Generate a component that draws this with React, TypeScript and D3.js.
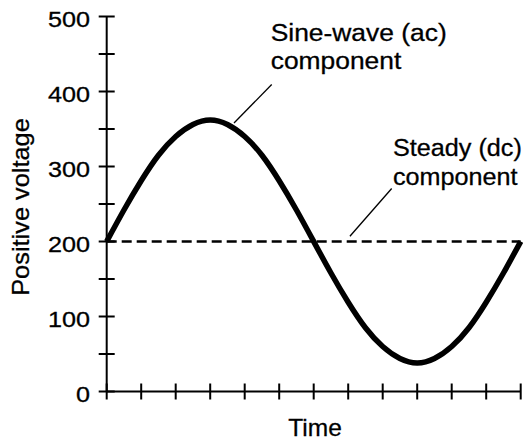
import React from "react";
import * as d3 from "d3";

// Data
const yMajorTicks = [0, 100, 200, 300, 400, 500];
const yMinorTicks = [50, 150, 250, 350, 450];
const xTickValues = [0, 1, 2, 3, 4, 5, 6, 7, 8, 9, 10, 11, 12];
const sineTimes = [0, 0.5, 1, 1.5, 2, 2.5, 3, 3.5, 4, 4.5, 5, 5.5, 6, 6.5, 7, 7.5, 8, 8.5, 9, 9.5, 10, 10.5, 11, 11.5, 12];
const sineVoltages = [200, 242, 281, 315, 340, 356, 362, 356, 340, 315, 281, 242, 200, 158, 119, 85, 60, 44, 38, 44, 60, 85, 119, 158, 200];
const dcLevel = 200;
const xLabel = "Time";
const yLabel = "Positive voltage";
const acLabel = ["Sine-wave (ac)", "component"];
const dcLabel = ["Steady (dc)", "component"];

const W = 525;
const H = 442;
const FONT = "'Liberation Sans', Arial, Helvetica, sans-serif";

export default function App() {
  const x = d3.scaleLinear().domain([0, 12]).range([106.7, 520.7]);
  const y = d3.scaleLinear().domain([0, 500]).range([391.5, 16.5]);

  const sinePts: [number, number][] = sineTimes.map((t, i) => [t, sineVoltages[i]]);
  const line = d3
    .line<[number, number]>()
    .x((d) => x(d[0]))
    .y((d) => y(d[1]))
    .curve(d3.curveNatural);

  const tickHalf = 8;

  // leader-line anchors in data coordinates
  const acEnd = { t: 3.69, v: 358 };
  const dcEnd = { t: 7.05, v: 207 };

  return (
    <svg
      width={W}
      height={H}
      style={{ position: "absolute", left: 0, top: 0, background: "#fff" }}
      fontFamily={FONT}
    >
      {/* dc dashed line */}
      <line
        x1={x(0)}
        x2={x(12)}
        y1={y(dcLevel)}
        y2={y(dcLevel)}
        stroke="#000"
        strokeWidth={2.5}
        strokeDasharray="10,5"
      />
      {/* sine wave */}
      <path d={line(sinePts) || ""} fill="none" stroke="#000" strokeWidth={5.5} strokeLinejoin="round" />

      {/* Y axis */}
      <line x1={x(0)} x2={x(0)} y1={y(0)} y2={y(500)} stroke="#000" strokeWidth={2} />
      {yMajorTicks.concat(yMinorTicks).map((v) => (
        <line
          key={"yt" + v}
          x1={x(0) - tickHalf}
          x2={x(0) + tickHalf}
          y1={y(v)}
          y2={y(v)}
          stroke="#000"
          strokeWidth={2}
        />
      ))}
      {yMajorTicks.map((v) => (
        <text
          key={"yl" + v}
          transform={`translate(90,${y(v) + 10}) scale(1.12,1)`}
          textAnchor="end"
          fontSize={22.5}
          fill="#000"
          stroke="#000"
          strokeWidth={0.3}
        >
          {v}
        </text>
      ))}

      {/* X axis */}
      <line x1={x(0)} x2={x(12)} y1={y(0)} y2={y(0)} stroke="#000" strokeWidth={2} />
      {xTickValues.map((t) => (
        <line
          key={"xt" + t}
          x1={x(t)}
          x2={x(t)}
          y1={y(0) - tickHalf}
          y2={y(0) + tickHalf}
          stroke="#000"
          strokeWidth={2}
        />
      ))}

      {/* Axis titles */}
      <g fill="#000" stroke="#000" strokeWidth={0.3}>
        <text x={315} y={436} textAnchor="middle" fontSize={24.5}>
          {xLabel}
        </text>
        <text
          transform={`translate(29,207) rotate(-90) scale(1.08,1)`}
          textAnchor="middle"
          fontSize={23.5}
        >
          {yLabel}
        </text>

        {/* Annotations */}
        <text transform="translate(270.7,40.7) scale(1.1,1)" fontSize={24}>
          {acLabel[0]}
        </text>
        <text transform="translate(270.7,69.3) scale(1.1,1)" fontSize={24}>
          {acLabel[1]}
        </text>
        <text transform="translate(393,156) scale(1.05,1)" fontSize={24}>
          {dcLabel[0]}
        </text>
        <text transform="translate(393,185) scale(1.05,1)" fontSize={24}>
          {dcLabel[1]}
        </text>
      </g>
      <line x1={271.7} y1={84.5} x2={x(acEnd.t)} y2={y(acEnd.v)} stroke="#000" strokeWidth={1.3} />
      <line x1={391.7} y1={188.5} x2={x(dcEnd.t)} y2={y(dcEnd.v)} stroke="#000" strokeWidth={1.3} />
    </svg>
  );
}
